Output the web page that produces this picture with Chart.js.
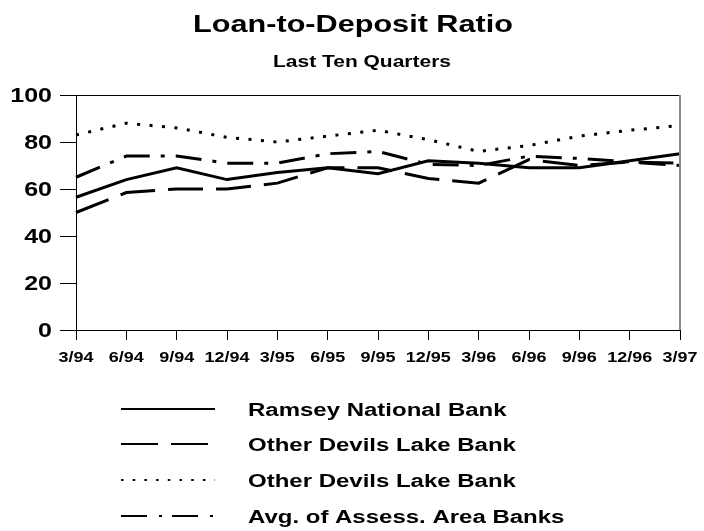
<!DOCTYPE html>
<html>
<head>
<meta charset="utf-8">
<script src="https://cdn.jsdelivr.net/npm/chart.js@4/dist/chart.umd.min.js"></script>
<style>
  html, body { margin: 0; padding: 0; background: #fff; }
  #wrap { width: 704px; height: 531px; }
</style>
</head>
<body>
<div id="wrap"><canvas id="grafico" width="704" height="531"></canvas></div>
<script>
// datos
var trimestres = ['3/94', '6/94', '9/94', '12/94', '3/95', '6/95', '9/95', '12/95', '3/96', '6/96', '9/96', '12/96', '3/97'];
var ramsey = [56.5, 64, 69, 64, 67, 69, 66.5, 72, 71, 69, 69, 72, 75];
var devilsLake1 = [50, 58.5, 60, 60, 62.5, 69, 69, 64.5, 62.5, 72.5, 70, 71.5, 71];
var devilsLake2 = [83, 88, 86, 82, 80, 82.5, 85, 81, 76, 78.5, 82.5, 85, 87];
var promedioArea = [65, 74, 74, 71, 71, 75, 76, 70.5, 70, 74, 73, 71.5, 70];
var nombres = ['Ramsey National Bank', 'Other Devils Lake Bank', 'Other Devils Lake Bank', 'Avg. of Assess. Area Banks'];
var ticksY = [0, 20, 40, 60, 80, 100];

var ESTIRAR = 1.25; // el texto original esta ensanchado
var FUENTE = '"Liberation Sans", Arial, sans-serif';

function textoAncho(ctx, texto, x, y, size, align) {
  ctx.save();
  ctx.font = 'bold ' + size + 'px ' + FUENTE;
  ctx.textBaseline = 'alphabetic';
  ctx.textAlign = 'left';
  ctx.fillStyle = '#000';
  var w = ctx.measureText(texto).width * ESTIRAR;
  var izq = x;
  if (align === 'center') izq = x - w / 2;
  if (align === 'right') izq = x - w;
  ctx.translate(izq, y);
  ctx.scale(ESTIRAR, 1);
  ctx.fillText(texto, 0, 0);
  ctx.restore();
}

var textosPlugin = {
  id: 'textos',
  afterDraw: function (chart) {
    var ctx = chart.ctx;
    var area = chart.chartArea;

    // marco: arriba negro, derecha gris
    ctx.save();
    ctx.strokeStyle = '#000';
    ctx.lineWidth = 1;
    ctx.beginPath();
    ctx.moveTo(area.left, Math.round(area.top) + 0.5);
    ctx.lineTo(area.right, Math.round(area.top) + 0.5);
    ctx.stroke();
    ctx.strokeStyle = '#8a8a8a';
    ctx.lineWidth = 2;
    ctx.beginPath();
    ctx.moveTo(Math.round(area.right), area.top);
    ctx.lineTo(Math.round(area.right), area.bottom);
    ctx.stroke();
    ctx.restore();

    // titulos
    textoAncho(ctx, 'Loan-to-Deposit Ratio', 353, 32, 24.5, 'center');
    textoAncho(ctx, 'Last Ten Quarters', 362, 67, 16.8, 'center');

    // etiquetas de los ejes
    var ys = chart.scales.y;
    ys.ticks.forEach(function (t) {
      textoAncho(ctx, String(t.value), ys.left - 8, ys.getPixelForValue(t.value) + 7, 20, 'right');
    });
    var xs = chart.scales.x;
    xs.ticks.forEach(function (t, i) {
      textoAncho(ctx, xs.getLabelForValue(t.value), xs.getPixelForTick(i), 362, 14.4, 'center');
    });

    // leyenda
    var filas = [409, 444, 480, 516];
    chart.data.datasets.forEach(function (ds, i) {
      var y = filas[i];
      ctx.save();
      ctx.strokeStyle = '#000';
      ctx.lineWidth = 2;
      ctx.lineCap = 'butt';
      ctx.setLineDash(ds.legendDash || ds.borderDash || []);
      ctx.beginPath();
      ctx.moveTo(121, y);
      ctx.lineTo(215, y);
      ctx.stroke();
      ctx.restore();
      textoAncho(ctx, ds.label, 248, y + 7, 19.2, 'left');
    });
  }
};

var ctx = document.getElementById('grafico').getContext('2d');

var data = {
  labels: trimestres,
  datasets: [{
    label: nombres[0],
    data: ramsey,
    borderDash: [],
    legendDash: []
  }, {
    label: nombres[1],
    data: devilsLake1,
    borderDash: [35, 13],
    legendDash: [37, 13]
  }, {
    label: nombres[2],
    data: devilsLake2,
    borderDash: [3, 9.5],
    legendDash: [2.5, 9.2]
  }, {
    label: nombres[3],
    data: promedioArea,
    borderDash: [26, 11, 4, 11],
    legendDash: [26, 12, 3, 10]
  }]
};

data.datasets.forEach(function (ds) {
  ds.borderColor = '#000';
  ds.backgroundColor = '#000';
  ds.borderWidth = 3;
  ds.pointRadius = 0;
  ds.tension = 0;
  ds.fill = false;
  ds.borderCapStyle = 'butt';
});

var options = {
  responsive: false,
  animation: false,
  layout: {
    padding: { left: 60, top: 95, right: 24, bottom: 191 }
  },
  scales: {
    x: {
      offset: false,
      border: { display: true, color: '#000', width: 1 },
      grid: { drawOnChartArea: false, drawTicks: true, tickLength: 10, color: '#000' },
      ticks: { display: false }
    },
    y: {
      min: 0,
      max: 100,
      afterBuildTicks: function (axis) {
        axis.ticks = ticksY.map(function (v) { return { value: v }; });
      },
      border: { display: true, color: '#000', width: 1 },
      grid: { drawOnChartArea: false, drawTicks: true, tickLength: 16, color: '#000' },
      ticks: { display: false }
    }
  },
  plugins: {
    legend: { display: false },
    title: { display: false },
    tooltip: { enabled: false }
  }
};

var chart = new Chart(ctx, {
  type: 'line',
  data: data,
  options: options,
  plugins: [textosPlugin]
});
</script>
</body>
</html>
